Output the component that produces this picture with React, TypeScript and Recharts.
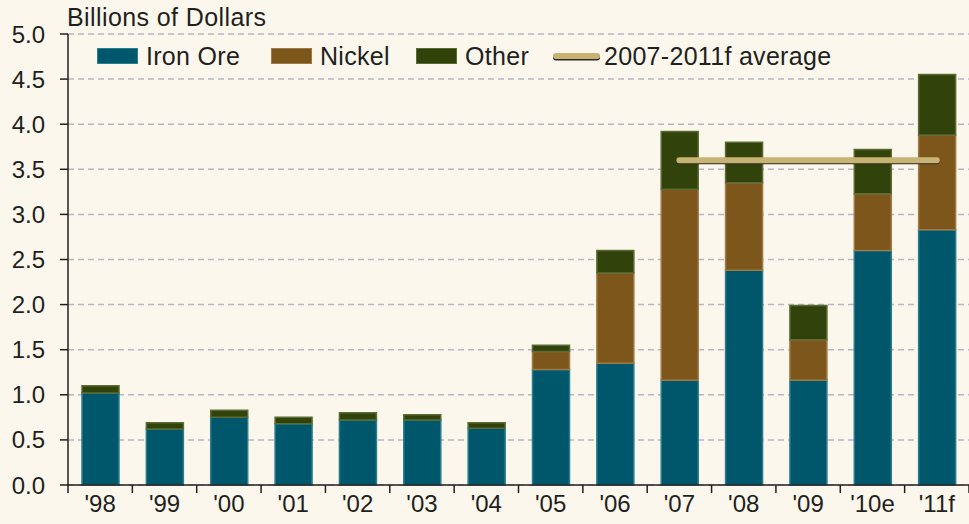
import React from 'react';
import { ComposedChart, Bar, Line, XAxis, YAxis, CartesianGrid } from 'recharts';

const years = ["'98", "'99", "'00", "'01", "'02", "'03", "'04", "'05", "'06", "'07", "'08", "'09", "'10e", "'11f"];
const ironOre = [1.02, 0.62, 0.75, 0.68, 0.72, 0.72, 0.63, 1.28, 1.35, 1.16, 2.38, 1.16, 2.6, 2.83];
const nickel = [0, 0, 0, 0, 0, 0, 0, 0.2, 1.0, 2.12, 0.97, 0.45, 0.63, 1.05];
const other = [0.08, 0.07, 0.08, 0.07, 0.08, 0.06, 0.06, 0.07, 0.25, 0.64, 0.45, 0.38, 0.49, 0.67];
const average = [null, null, null, null, null, null, null, null, null, 3.6, 3.6, 3.6, 3.6, 3.6];
const yTicks = [0, 0.5, 1, 1.5, 2, 2.5, 3, 3.5, 4, 4.5, 5];

const data = years.map((year, i) => ({
  year,
  iron: ironOre[i],
  nickel: nickel[i],
  other: other[i],
  avg: average[i],
}));

const BG = '#fbf7ec';
const TEXT = '#231f20';
const FONT = '"Liberation Sans", Arial, sans-serif';

const WIDTH = 969;
const HEIGHT = 524;
const Y_AXIS_W = 68;
// half a category band, so tick marks sit between the bars
const HALF_BAND = (WIDTH - Y_AXIS_W) / years.length / 2;

const legendItems = [
  { label: 'Iron Ore', fill: '#00566a', stroke: '#2a7f8f', left: 97 },
  { label: 'Nickel', fill: '#7d561c', stroke: '#a07a45', left: 271 },
  { label: 'Other', fill: '#31430a', stroke: '#5b6b35', left: 416 },
];

const textStyle: React.CSSProperties = { fontFamily: FONT, fontSize: 25, letterSpacing: 0.3, color: TEXT, lineHeight: '28px' };

const ChartLegend = () => (
  <>
    {legendItems.map((item) => (
      <div key={item.label} style={{ position: 'absolute', left: item.left, top: 42, display: 'flex', alignItems: 'center', ...textStyle }}>
        <div style={{ width: 39, height: 14, background: item.fill, border: `1.5px solid ${item.stroke}`, marginRight: 8 }} />
        <span>{item.label}</span>
      </div>
    ))}
    <div style={{ position: 'absolute', left: 553, top: 42, display: 'flex', alignItems: 'center', ...textStyle }}>
      <div style={{ width: 47, height: 6, background: '#c9b372', borderRadius: 3, boxShadow: '0 1.5px 0 #2a2a2a', marginRight: 4 }} />
      <span>2007-2011f average</span>
    </div>
  </>
);

const YearTick = (props: any) => {
  const { x, y, payload, index } = props;
  const top = y - 10;
  const last = index === years.length - 1;
  return (
    <g>
      <line x1={x - HALF_BAND} y1={top} x2={x - HALF_BAND} y2={top + 8} stroke={TEXT} strokeWidth={1.5} />
      {last && <line x1={x + HALF_BAND} y1={top} x2={x + HALF_BAND} y2={top + 8} stroke={TEXT} strokeWidth={1.5} />}
      <text x={x} y={y} dy="0.71em" textAnchor="middle" fill={TEXT} fontSize={24} fontFamily={FONT}>
        {payload.value}
      </text>
    </g>
  );
};

export default function App() {
  return (
    <div style={{ position: 'fixed', inset: 0, background: BG }}>
      <ComposedChart width={WIDTH} height={HEIGHT} data={data} margin={{ top: 34, right: 0, bottom: 0, left: 0 }}>
        <CartesianGrid horizontal vertical={false} stroke="#b9b6c4" strokeDasharray="6 4" strokeWidth={1.5} />
        <XAxis
          dataKey="year"
          height={39}
          axisLine={{ stroke: TEXT, strokeWidth: 1.5 }}
          tickLine={false}
          tickSize={6}
          tickMargin={4}
          interval={0}
          tick={<YearTick />}
        />
        <YAxis
          width={Y_AXIS_W}
          domain={[0, 5]}
          ticks={yTicks}
          tickFormatter={(v: number) => v.toFixed(1)}
          tickSize={8}
          tickMargin={15}
          axisLine={{ stroke: TEXT, strokeWidth: 1.5 }}
          tickLine={{ stroke: TEXT, strokeWidth: 1.5 }}
          tick={{ fill: TEXT, fontSize: 24, fontFamily: FONT }}
        />
        <Bar dataKey="iron" stackId="a" fill="#00566a" stroke="#2a7f8f" strokeWidth={1.5} barSize={37} isAnimationActive={false} />
        <Bar dataKey="nickel" stackId="a" fill="#7d561c" stroke="#a07a45" strokeWidth={1.5} barSize={37} isAnimationActive={false} />
        <Bar dataKey="other" stackId="a" fill="#31430a" stroke="#5b6b35" strokeWidth={1.5} barSize={37} isAnimationActive={false} />
        <Line
          dataKey="avg"
          stroke="#c9b372"
          strokeWidth={6}
          strokeLinecap="round"
          dot={false}
          activeDot={false}
          connectNulls={false}
          style={{ filter: 'drop-shadow(0 1.5px 0 #2a2a2a)' }}
          isAnimationActive={false}
        />
      </ComposedChart>
      <div style={{ position: 'absolute', left: 67, top: 3, ...textStyle, letterSpacing: 0.4 }}>
        Billions of Dollars
      </div>
      <ChartLegend />
    </div>
  );
}
